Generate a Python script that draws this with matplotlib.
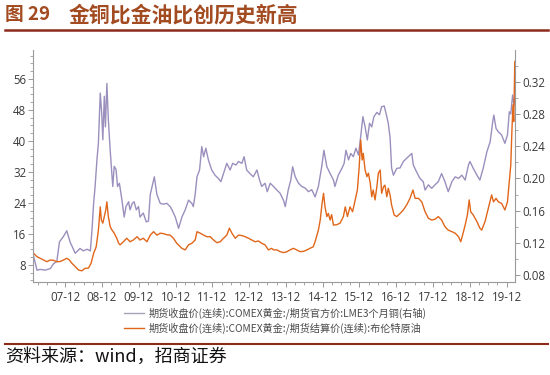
import matplotlib
matplotlib.use("Agg")
import matplotlib.pyplot as plt
from matplotlib.lines import Line2D
import numpy as np

# ---- data (decimal years) ----
gc_year = [2007.06,2007.15,2007.24,2007.37,2007.51,2007.60,2007.69,2007.76,2007.87,2007.96,2008.05,2008.19,2008.32,2008.41,2008.51,2008.60,2008.64,2008.69,2008.73,2008.78,2008.82,2008.87,2008.91,2008.94,2008.98,2009.01,2009.05,2009.09,2009.14,2009.19,2009.21,2009.25,2009.30,2009.34,2009.39,2009.46,2009.52,2009.57,2009.64,2009.68,2009.74,2009.79,2009.85,2009.91,2009.95,2010.04,2010.12,2010.18,2010.23,2010.34,2010.41,2010.50,2010.59,2010.68,2010.77,2010.82,2010.91,2011.00,2011.09,2011.18,2011.27,2011.36,2011.40,2011.45,2011.50,2011.57,2011.63,2011.68,2011.74,2011.81,2011.90,2011.99,2012.08,2012.15,2012.22,2012.31,2012.40,2012.47,2012.56,2012.63,2012.72,2012.78,2012.85,2012.94,2013.03,2013.13,2013.20,2013.26,2013.35,2013.41,2013.49,2013.58,2013.67,2013.76,2013.85,2013.90,2013.98,2014.05,2014.10,2014.17,2014.26,2014.35,2014.44,2014.53,2014.62,2014.71,2014.80,2014.89,2014.95,2015.03,2015.12,2015.21,2015.25,2015.34,2015.44,2015.50,2015.55,2015.62,2015.68,2015.75,2015.82,2015.89,2015.95,2016.01,2016.07,2016.13,2016.19,2016.25,2016.31,2016.39,2016.46,2016.52,2016.59,2016.66,2016.70,2016.75,2016.79,2016.84,2016.93,2017.02,2017.11,2017.20,2017.29,2017.34,2017.38,2017.47,2017.56,2017.65,2017.70,2017.79,2017.88,2017.97,2018.06,2018.15,2018.24,2018.33,2018.43,2018.52,2018.61,2018.70,2018.79,2018.88,2018.92,2019.01,2019.11,2019.19,2019.28,2019.38,2019.47,2019.54,2019.57,2019.63,2019.69,2019.78,2019.87,2019.94,2019.99,2020.03,2020.08,2020.12,2020.14]
gold_copper = [0.103,0.086,0.087,0.086,0.088,0.094,0.097,0.121,0.128,0.135,0.121,0.107,0.113,0.110,0.112,0.110,0.132,0.169,0.190,0.223,0.244,0.306,0.281,0.248,0.302,0.264,0.318,0.273,0.235,0.202,0.190,0.215,0.211,0.190,0.194,0.173,0.152,0.165,0.171,0.161,0.169,0.171,0.161,0.165,0.152,0.157,0.146,0.147,0.180,0.202,0.180,0.169,0.168,0.169,0.165,0.161,0.152,0.138,0.152,0.161,0.173,0.169,0.165,0.180,0.202,0.2105,0.2395,0.227,0.2375,0.223,0.2105,0.204,0.200,0.196,0.206,0.2187,0.2105,0.2187,0.2167,0.221,0.2187,0.227,0.2105,0.206,0.202,0.2105,0.198,0.190,0.194,0.1835,0.194,0.190,0.1856,0.1815,0.173,0.165,0.1856,0.198,0.2145,0.202,0.194,0.190,0.188,0.1835,0.186,0.177,0.190,0.2145,0.235,0.2145,0.206,0.198,0.190,0.204,0.2125,0.2187,0.235,0.223,0.231,0.227,0.2375,0.229,0.252,0.2767,0.264,0.2477,0.2685,0.264,0.2767,0.282,0.279,0.289,0.290,0.2767,0.2685,0.250,0.213,0.204,0.2125,0.213,0.221,0.225,0.229,0.231,0.2167,0.208,0.200,0.196,0.1856,0.192,0.1877,0.192,0.196,0.206,0.196,0.1835,0.196,0.202,0.200,0.204,0.198,0.2167,0.221,0.2125,0.204,0.198,0.2125,0.233,0.2456,0.2705,0.2787,0.262,0.258,0.254,0.2436,0.254,0.2828,0.280,0.3036,0.2912,0.300]

go_year = [2007.06,2007.15,2007.24,2007.33,2007.42,2007.51,2007.60,2007.69,2007.78,2007.87,2007.96,2008.03,2008.10,2008.19,2008.28,2008.37,2008.46,2008.55,2008.62,2008.69,2008.76,2008.82,2008.87,2008.90,2008.94,2008.98,2009.02,2009.05,2009.09,2009.14,2009.19,2009.25,2009.32,2009.37,2009.41,2009.50,2009.59,2009.68,2009.77,2009.87,2009.95,2010.04,2010.14,2010.23,2010.32,2010.41,2010.50,2010.59,2010.68,2010.77,2010.86,2010.95,2011.09,2011.18,2011.27,2011.36,2011.45,2011.50,2011.59,2011.68,2011.77,2011.86,2011.95,2012.04,2012.13,2012.22,2012.31,2012.38,2012.45,2012.54,2012.63,2012.72,2012.81,2012.90,2012.99,2013.08,2013.17,2013.26,2013.35,2013.44,2013.53,2013.58,2013.67,2013.76,2013.85,2013.94,2014.03,2014.12,2014.21,2014.30,2014.39,2014.49,2014.57,2014.66,2014.71,2014.80,2014.85,2014.90,2014.94,2014.98,2015.03,2015.07,2015.12,2015.16,2015.21,2015.30,2015.39,2015.48,2015.53,2015.59,2015.66,2015.73,2015.80,2015.86,2015.91,2015.95,2015.99,2016.02,2016.07,2016.12,2016.16,2016.21,2016.25,2016.29,2016.34,2016.39,2016.43,2016.48,2016.52,2016.57,2016.61,2016.66,2016.70,2016.75,2016.79,2016.86,2016.93,2017.02,2017.11,2017.20,2017.29,2017.37,2017.43,2017.52,2017.61,2017.70,2017.79,2017.88,2017.97,2018.06,2018.15,2018.24,2018.33,2018.43,2018.52,2018.61,2018.67,2018.72,2018.79,2018.85,2018.90,2018.94,2019.01,2019.11,2019.19,2019.24,2019.33,2019.42,2019.51,2019.56,2019.63,2019.69,2019.78,2019.87,2019.94,2019.99,2020.03,2020.06,2020.09,2020.11,2020.13,2020.14]
gold_oil = [11.0,10.15,9.73,9.29,8.85,9.29,9.2,8.85,8.9,9.29,9.73,9.3,8.43,7.57,6.71,6.5,7.14,7.2,8.43,11.0,12.7,17.0,23.0,19.6,18.8,20.5,22.2,24.3,20.5,17.9,17.0,16.2,14.9,13.6,13.2,14.0,14.9,14.0,14.45,15.3,14.45,14.9,14.0,15.7,16.6,15.7,16.2,16.1,15.8,15.7,14.9,13.6,12.3,11.9,13.2,13.6,14.45,16.6,16.2,15.7,15.3,15.3,14.45,13.75,14.0,14.9,15.7,17.5,16.2,14.9,15.7,15.6,15.3,14.9,14.45,14.0,14.2,13.6,13.2,11.9,12.3,11.9,11.9,11.45,11.2,11.4,11.9,12.3,11.9,11.45,11.5,11.9,12.3,12.7,14.0,17.0,19.6,23.9,26.5,23.0,20.5,21.3,19.6,21.0,18.3,18.4,18.8,20.5,23.0,20.5,23.0,21.75,24.8,27.35,33.4,40.3,35.1,36.8,32.5,30.8,31.7,29.1,25.6,27.35,24.8,28.2,31.7,32.5,26.5,28.2,28.6,25.6,27.8,26.0,23.5,20.9,20.5,21.3,22.2,23.5,25.2,27.35,25.2,25.2,24.3,21.75,20.05,19.6,19.8,20.5,19.6,17.9,17.0,16.6,16.2,15.3,14.0,15.7,18.3,20.9,24.8,21.75,20.9,19.2,17.5,17.0,19.2,22.6,26.1,24.3,25.2,24.3,23.9,22.2,24.3,29.5,33.8,42.4,49.3,45.0,55.3,60.5]

x_tick_years = [2007 + 11/12 + i for i in range(13)]
x_tick_labels = ['07-12','08-12','09-12','10-12','11-12','12-12','13-12','14-12','15-12','16-12','17-12','18-12','19-12']
left_ticks = [8, 16, 24, 32, 40, 48, 56]
right_ticks = [0.08, 0.12, 0.16, 0.20, 0.24, 0.28, 0.32]

label_gc = '期货收盘价(连续):COMEX黄金:/期货官方价:LME3个月铜(右轴)'
label_go = '期货收盘价(连续):COMEX黄金:/期货结算价(连续):布伦特原油'
title_num = '图 29'
title_txt = '金铜比金油比创历史新高'
source_txt = '资料来源：wind，招商证券'

# ---- styling ----
CJK = ['Noto Sans CJK SC', 'DejaVu Sans']
plt.rcParams['font.family'] = CJK
purple = '#9b8fbd'
orange = '#e0661a'
axis_col = '#9a9a9a'
txt_col = '#3a3a3a'
brown = '#a24a20'
line_red = '#8c2a1c'

fig = plt.figure(figsize=(5.5, 3.75), dpi=100)
ax = fig.add_axes([33.3/550, 1-281.7/375, (515-33.3)/550, (281.7-50)/375])
ax2 = ax.twinx()
ax.set_zorder(ax2.get_zorder() + 1)
ax.patch.set_visible(False)

ax2.plot(gc_year, gold_copper, color=purple, lw=1.0)
ax.plot(go_year, gold_oil, color=orange, lw=1.0)

ax.set_xlim(2007.05, 2020.145)
ax.set_ylim(3.69, 63.48)
ax2.set_ylim(0.0717, 0.3595)

for a in (ax, ax2):
    for s in a.spines.values():
        s.set_color(axis_col)
        s.set_linewidth(0.8)
    a.spines['top'].set_visible(False)
ax.spines['right'].set_visible(False)
ax2.spines['left'].set_visible(False)
ax2.spines['bottom'].set_visible(False)

tick_font = {'family': 'Open Sans', 'size': 8.3}
ax.set_xticks(x_tick_years)
ax.set_xticklabels(x_tick_labels, fontdict=tick_font, color=txt_col)
ax.set_xticks(np.arange(2007 + 2/12, 2020.15, 0.25), minor=True)
ax.set_yticks(left_ticks)
ax.set_yticklabels([str(v) for v in left_ticks], fontdict=tick_font, color=txt_col)
ax.set_yticks(np.arange(4, 63, 2), minor=True)
ax2.set_yticks(right_ticks)
ax2.set_yticklabels(['%.2f' % v for v in right_ticks], fontdict=tick_font, color=txt_col)
ax2.set_yticks(np.arange(0.08, 0.36, 0.02), minor=True)

ax.tick_params(axis='both', which='major', length=3.5, width=0.7, color=axis_col, pad=1.5)
ax.tick_params(axis='both', which='minor', length=2, width=0.6, color=axis_col)
ax.tick_params(axis='x', which='major', pad=3)
ax2.tick_params(axis='y', which='major', length=3.5, width=0.7, color=axis_col, pad=1.5)
ax2.tick_params(axis='y', which='minor', length=2, width=0.6, color=axis_col)

handles = [Line2D([], [], color='#a8a3b8', lw=1.0), Line2D([], [], color=orange, lw=1.0)]
fig.legend(handles, [label_gc, label_go], loc='center', bbox_to_anchor=(275/550, 1-321/375),
           frameon=False, handlelength=2.0, handletextpad=0.4,
           labelspacing=0.3, borderpad=0, prop={'family': CJK, 'size': 7.3},
           labelcolor='#4a4a4a')

# title
fig.text(5/550, 1-15/375, title_num, fontsize=13.5, fontweight='bold', color=brown,
         va='center', ha='left', family=CJK)
fig.text(69/550, 1-15/375, title_txt, fontsize=15, fontweight='bold', color=brown,
         va='center', ha='left', family=CJK)
fig.add_artist(Line2D([5/550, 548/550], [1-30/375, 1-30/375], color=line_red, lw=1.8))

# source
fig.add_artist(Line2D([5/550, 548/550], [1-344/375, 1-344/375], color=line_red, lw=1.5))
fig.text(5/550, 1-357/375, source_txt, fontsize=13, color='#111111',
         va='center', ha='left', family=CJK)

fig.savefig('out.png', dpi=100)
